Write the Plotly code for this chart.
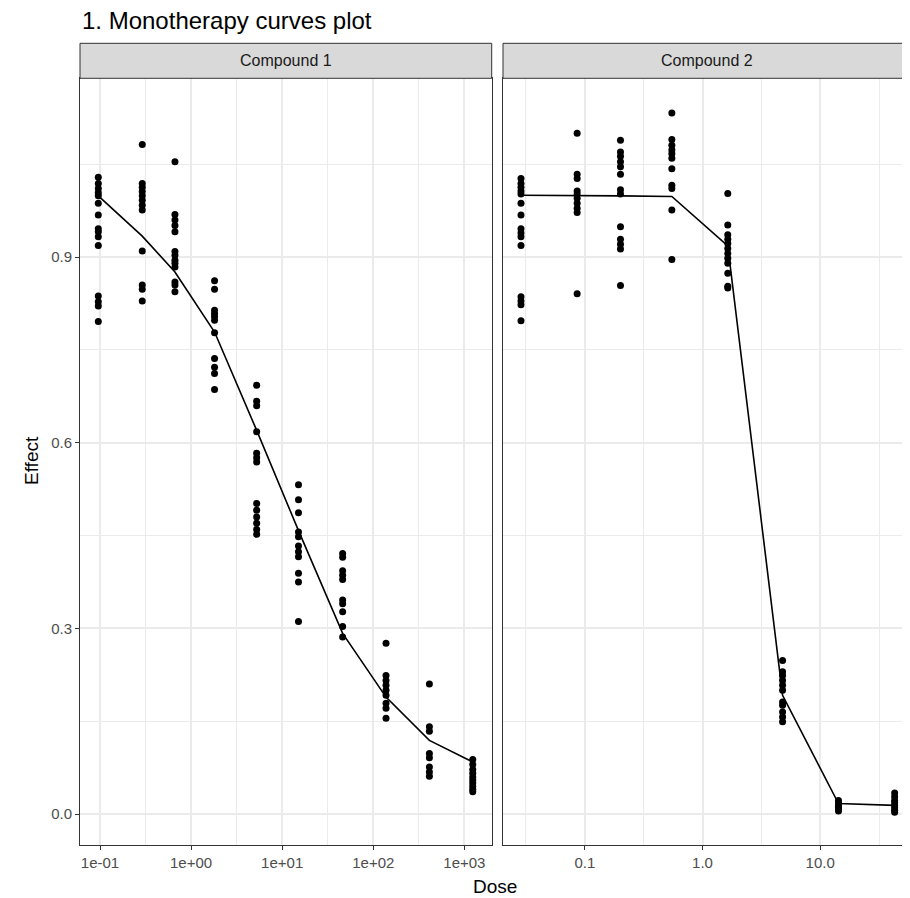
import plotly.graph_objects as go

# ---------------- data ----------------
c1_doses = [0.0958, 0.291, 0.665, 1.81, 5.25, 15.1, 46.1, 138, 413, 1236]
c1_effects = [
    [1.029, 1.019, 1.011, 1.004, 0.999, 0.987, 0.968, 0.946, 0.941, 0.933, 0.919, 0.837, 0.828, 0.821, 0.796],
    [1.082, 1.019, 1.013, 1.006, 0.999, 0.992, 0.984, 0.976, 0.910, 0.855, 0.848, 0.829],
    [1.054, 0.969, 0.960, 0.951, 0.941, 0.909, 0.903, 0.895, 0.890, 0.884, 0.860, 0.855, 0.844],
    [0.862, 0.848, 0.814, 0.809, 0.804, 0.798, 0.778, 0.736, 0.722, 0.712, 0.686],
    [0.693, 0.667, 0.660, 0.618, 0.583, 0.576, 0.569, 0.502, 0.491, 0.480, 0.470, 0.460, 0.452],
    [0.532, 0.508, 0.487, 0.456, 0.448, 0.433, 0.424, 0.416, 0.389, 0.375, 0.311],
    [0.421, 0.415, 0.393, 0.386, 0.379, 0.346, 0.340, 0.327, 0.303, 0.286],
    [0.276, 0.224, 0.216, 0.208, 0.200, 0.192, 0.179, 0.171, 0.155],
    [0.210, 0.141, 0.134, 0.098, 0.091, 0.076, 0.068, 0.061],
    [0.088, 0.080, 0.072, 0.066, 0.060, 0.055, 0.050, 0.045, 0.040, 0.036],
]
c1_fit = [0.999, 0.934, 0.876, 0.779, 0.620, 0.458, 0.292, 0.189, 0.119, 0.084]

c2_doses = [0.0287, 0.0861, 0.201, 0.549, 1.64, 4.79, 14.3, 42.9]
c2_effects = [
    [1.027, 1.019, 1.013, 1.007, 1.002, 0.987, 0.968, 0.946, 0.939, 0.933, 0.919, 0.836, 0.829, 0.823, 0.797],
    [1.100, 1.034, 1.027, 1.007, 1.002, 0.995, 0.987, 0.979, 0.972, 0.841],
    [1.089, 1.070, 1.063, 1.054, 1.046, 1.034, 1.009, 1.002, 0.949, 0.929, 0.921, 0.913, 0.854],
    [1.133, 1.090, 1.081, 1.073, 1.067, 1.060, 1.043, 1.016, 1.011, 0.976, 0.896],
    [1.003, 0.952, 0.936, 0.929, 0.922, 0.914, 0.906, 0.898, 0.890, 0.874, 0.853, 0.850],
    [0.248, 0.230, 0.224, 0.216, 0.208, 0.200, 0.181, 0.176, 0.165, 0.157, 0.149],
    [0.022, 0.018, 0.014, 0.011, 0.008, 0.005],
    [0.034, 0.028, 0.022, 0.018, 0.014, 0.010, 0.006, 0.003],
]
c2_fit = [1.000, 1.000, 0.999, 0.998, 0.918, 0.192, 0.017, 0.014]

panel_names = ["Compound 1", "Compound 2"]
x1_ticks = [0.1, 1, 10, 100, 1000]
x1_labels = ["1e-01", "1e+00", "1e+01", "1e+02", "1e+03"]
x2_ticks = [0.1, 1, 10]
x2_labels = ["0.1", "1.0", "10.0"]
y_ticks = [0.0, 0.3, 0.6, 0.9]
y_labels = ["0.0", "0.3", "0.6", "0.9"]

# ---------------- figure ----------------
OFF = 8                      # default page body margin
W, H = 910 - OFF, 898 - OFF  # figure size so that the page fills the window
FONT = "Liberation Sans, Arial, Helvetica, sans-serif"
GRID = "#EBEBEB"
BORDER = "#333333"


def px(xp):
    return (xp - OFF) / W


def py(yp):
    return 1 - (yp - OFF) / H


fig = go.Figure()


def add_panel(doses, effects, fit, xa, ya):
    xs, ys = [], []
    for d, vals in zip(doses, effects):
        for v in vals:
            xs.append(d)
            ys.append(v)
    fig.add_trace(go.Scatter(x=xs, y=ys, mode="markers", xaxis=xa, yaxis=ya,
                             marker=dict(color="black", size=7), showlegend=False,
                             hoverinfo="x+y"))
    fig.add_trace(go.Scatter(x=doses, y=fit, mode="lines", xaxis=xa, yaxis=ya,
                             line=dict(color="black", width=1.6), showlegend=False))


add_panel(c1_doses, c1_effects, c1_fit, "x", "y")
add_panel(c2_doses, c2_effects, c2_fit, "x2", "y2")

p1 = (px(80), px(491.7))
p2 = (px(503), 1.0)
y_dom = (py(845), py(78.3))
strip = (py(78.3), py(43.3))

common_axis = dict(
    showline=True, linecolor=BORDER, linewidth=1, mirror=True,
    showgrid=True, gridcolor=GRID, gridwidth=1.5, zeroline=False,
    ticks="outside", ticklen=4, tickwidth=1, tickcolor=BORDER,
    tickfont=dict(family=FONT, size=15, color="#4D4D4D"),
)

fig.update_layout(
    width=W, height=H,
    margin=dict(l=0, r=0, t=0, b=0),
    paper_bgcolor="white", plot_bgcolor="white",
    font=dict(family=FONT),
    xaxis=dict(domain=list(p1), type="log", range=[-1.2195, 3.30], anchor="y",
               tickvals=x1_ticks, ticktext=x1_labels,
               minor=dict(tickvals=[10 ** -0.5, 10 ** 0.5, 10 ** 1.5, 10 ** 2.5],
                          showgrid=True, gridcolor=GRID, gridwidth=0.8, ticks=""),
               **common_axis),
    xaxis2=dict(domain=list(p2), type="log", range=[-1.695, 1.763], anchor="y2",
                tickvals=x2_ticks, ticktext=x2_labels,
                minor=dict(tickvals=[10 ** -1.5, 10 ** -0.5, 10 ** 0.5, 10 ** 1.5],
                           showgrid=True, gridcolor=GRID, gridwidth=0.8, ticks=""),
                **common_axis),
    yaxis=dict(domain=list(y_dom), range=[-0.05, 1.189], anchor="x",
               tickvals=y_ticks, ticktext=y_labels,
               minor=dict(tickvals=[0.15, 0.45, 0.75, 1.05],
                          showgrid=True, gridcolor=GRID, gridwidth=0.8, ticks=""),
               **common_axis),
    yaxis2=dict(domain=list(y_dom), range=[-0.05, 1.189], anchor="x2", matches="y",
                tickvals=y_ticks, showticklabels=False,
                minor=dict(tickvals=[0.15, 0.45, 0.75, 1.05],
                           showgrid=True, gridcolor=GRID, gridwidth=0.8, ticks=""),
                **{**common_axis, "ticks": ""}),
)

shapes = []
annotations = []
for (x0, x1), name in zip([p1, p2], panel_names):
    shapes.append(dict(type="rect", xref="paper", yref="paper", x0=x0, x1=x1,
                       y0=strip[0], y1=strip[1], fillcolor="#D9D9D9",
                       line=dict(color=BORDER, width=1), layer="above"))
    annotations.append(dict(text=name, xref="paper", yref="paper",
                            x=(x0 + x1) / 2, y=(strip[0] + strip[1]) / 2,
                            xanchor="center", yanchor="middle", showarrow=False,
                            font=dict(family=FONT, size=16, color="#1A1A1A")))

annotations.append(dict(text="1. Monotherapy curves plot", xref="paper", yref="paper",
                        x=px(80), y=py(20), xanchor="left", yanchor="middle",
                        showarrow=False, font=dict(family=FONT, size=24, color="black")))
annotations.append(dict(text="Dose", xref="paper", yref="paper",
                        x=px(495.5), y=py(886), xanchor="center", yanchor="middle",
                        showarrow=False, font=dict(family=FONT, size=19, color="black")))
annotations.append(dict(text="Effect", xref="paper", yref="paper",
                        x=px(31), y=py(461), xanchor="center", yanchor="middle",
                        textangle=-90, showarrow=False,
                        font=dict(family=FONT, size=19, color="black")))

fig.update_layout(shapes=shapes, annotations=annotations)

fig.write_html("out.html")
